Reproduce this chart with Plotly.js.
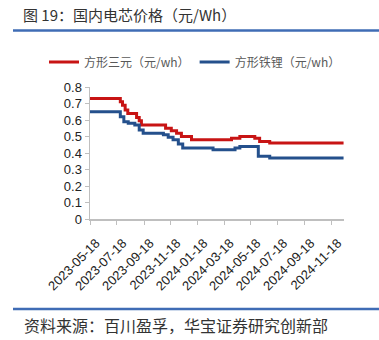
<!DOCTYPE html>
<html><head><meta charset="utf-8">
<script src="https://cdn.plot.ly/plotly-3.0.1.min.js"></script>
<style>html,body{margin:0;padding:0;background:#fff}#c{width:379px;height:340px}</style>
</head><body><div id="c"></div>
<script>
const seriesNames = ['方形三元（元/wh）', '方形铁锂（元/wh）'];
const ternaryDates = ['2023-05-18','2023-07-26','2023-07-31','2023-08-06','2023-08-12','2023-09-01','2023-09-07','2023-09-12','2023-11-06','2023-11-19','2023-12-01','2023-12-12','2024-01-04','2024-04-04','2024-04-23','2024-05-27','2024-06-07','2024-06-30','2024-12-15'];
const ternaryValues = [0.73,0.71,0.69,0.66,0.64,0.615,0.595,0.57,0.55,0.535,0.52,0.50,0.48,0.49,0.50,0.49,0.47,0.46,0.46];
const lfpDates = ['2023-05-18','2023-07-26','2023-08-03','2023-08-13','2023-08-28','2023-09-07','2023-09-16','2023-11-01','2023-11-12','2023-11-23','2023-12-05','2023-12-15','2024-02-22','2024-04-12','2024-04-23','2024-06-04','2024-06-30','2024-12-15'];
const lfpValues = [0.65,0.62,0.59,0.58,0.57,0.54,0.52,0.51,0.495,0.48,0.455,0.43,0.42,0.43,0.44,0.38,0.37,0.37];
const tickDates = ['2023-05-18','2023-07-18','2023-09-18','2023-11-18','2024-01-18','2024-03-18','2024-05-18','2024-07-18','2024-09-18','2024-11-18'];
const yTicks = [0,0.1,0.2,0.3,0.4,0.5,0.6,0.7,0.8];

const cjk = '"Noto Sans CJK SC", "Liberation Sans", sans-serif';
const traces = [
  {x: ternaryDates, y: ternaryValues, name: seriesNames[0], type:'scatter', mode:'lines',
   line:{color:'#C81414', width:3, shape:'hv'}},
  {x: lfpDates, y: lfpValues, name: seriesNames[1], type:'scatter', mode:'lines',
   line:{color:'#24508C', width:3, shape:'hv'}}
];
const W=379,H=340,L=90,R=344,T=87,B=219;
const px = v => (v-L)/(R-L);
const py = v => (B-v)/(B-T);
const layout = {
  width:W, height:H,
  margin:{l:L, r:W-R, t:T, b:H-B, pad:0},
  paper_bgcolor:'#fff', plot_bgcolor:'#fff',
  showlegend:true,
  legend:{orientation:'h', x:px(44), y:py(62), xanchor:'left', yanchor:'middle',
    font:{family:cjk, size:12, color:'#595959'}, bgcolor:'rgba(0,0,0,0)', itemwidth:30, tracegroupgap:0},
  title:{text:'图 19：国内电芯价格（元/Wh）', x:23/W, xanchor:'left', y:1-16/H, yanchor:'middle', xref:'container', yref:'container',
    font:{family:cjk, size:15, color:'#333'}},
  xaxis:{type:'date', range:['2023-05-18','2024-12-16'], tickvals:tickDates, ticktext:tickDates, tickangle:-45,
    showgrid:false, zeroline:false, showline:true, linecolor:'#BFBFBF', linewidth:1.5,
    ticks:'outside', ticklen:4, tickcolor:'#BFBFBF', tickwidth:1,
    ticklabelshift:6, ticklabelstandoff:6,
    tickfont:{family:'Liberation Sans, Arial', size:13, color:'#222'}},
  yaxis:{range:[0,0.8], tickvals:yTicks, ticktext:yTicks.map(v=>v===0?'0':v.toFixed(1)),
    showgrid:false, zeroline:false, showline:true, linecolor:'#BFBFBF', linewidth:1.5,
    ticks:'outside', ticklen:4, tickcolor:'#BFBFBF', tickwidth:1,
    tickfont:{family:'Liberation Sans, Arial', size:13, color:'#222'}},
  shapes:[
    {type:'line', xref:'paper', yref:'paper', x0:px(13), x1:px(379), y0:py(30.5), y1:py(30.5), line:{color:'#3F6CB5', width:2.5}},
    {type:'line', xref:'paper', yref:'paper', x0:px(13), x1:px(379), y0:py(309), y1:py(309), line:{color:'#3F6CB5', width:2.5}}
  ],
  annotations:[
    {text:'资料来源：百川盈孚，华宝证券研究创新部', xref:'paper', yref:'paper', x:px(22), y:py(325), xanchor:'left', yanchor:'middle',
     showarrow:false, font:{family:cjk, size:16, color:'#333'}}
  ]
};
Plotly.newPlot('c', traces, layout, {staticPlot:true, displayModeBar:false});
</script></body></html>
